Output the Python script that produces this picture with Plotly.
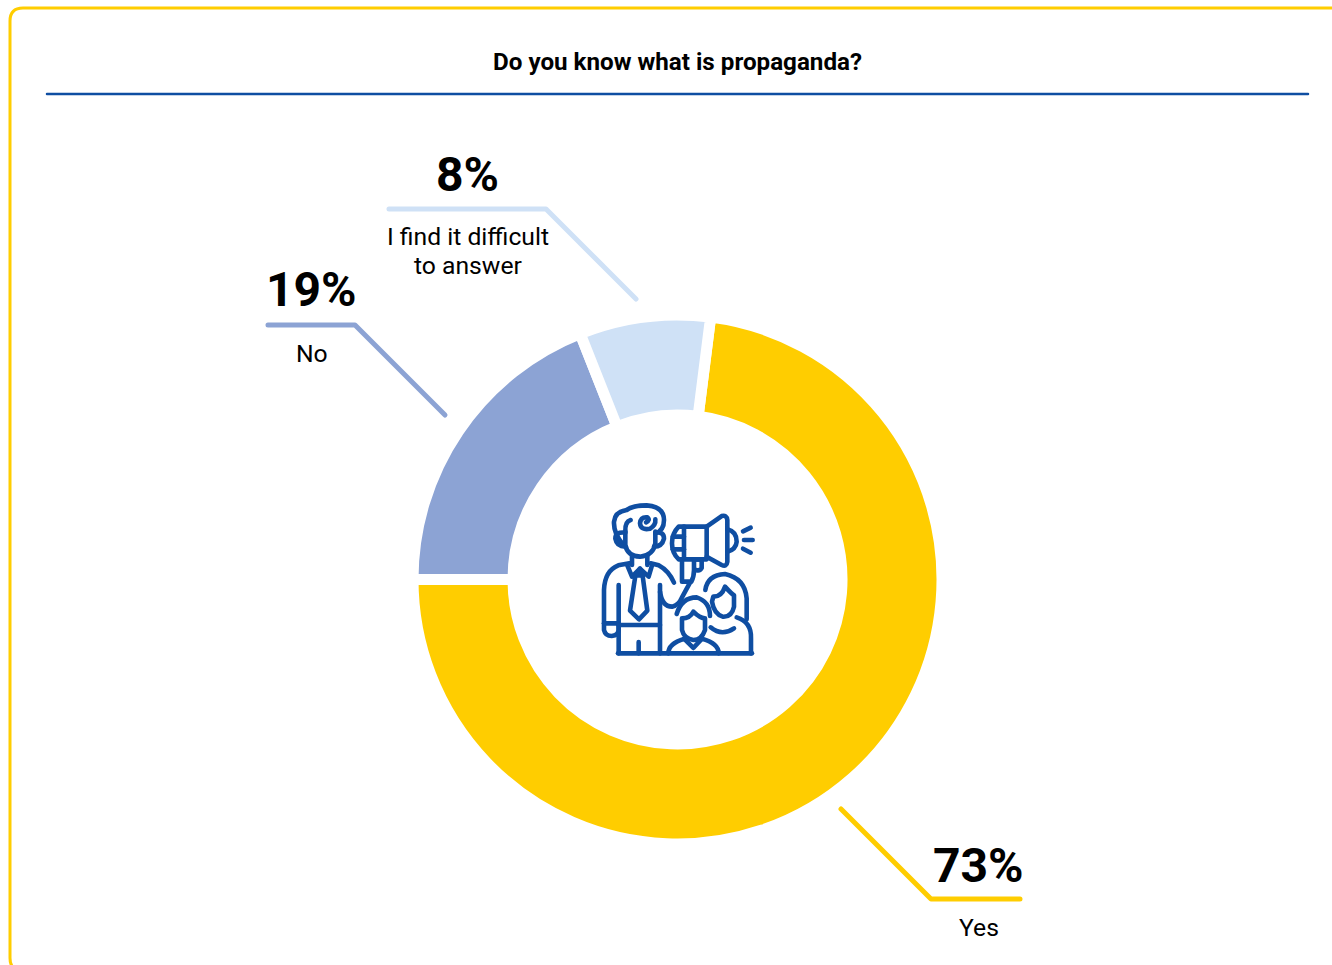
import re
import plotly.graph_objects as go

WIDTH, HEIGHT = 1332, 965

# Survey results
title_text = "Do you know what is propaganda?"
answers = ["Yes", "No", "I find it difficult<br>to answer"]
shares = [73, 19, 8]
slice_colors = ["#FFCD00", "#8CA3D4", "#CFE1F6"]

# Chart furniture colours
FRAME = "#FFCD00"
BLUE = "#0F4EA2"
INK = "#000000"


def to_paper(path):
    """Convert a pixel-space SVG path (y down) to paper coordinates."""
    parts = re.findall(r"[MLQCZ]|-?\d+\.?\d*", path)
    out, is_x = [], True
    for token in parts:
        if token.isalpha():
            out.append(token)
            is_x = True
        else:
            value = float(token)
            out.append(f"{value / WIDTH:.5f}" if is_x else f"{1 - value / HEIGHT:.5f}")
            is_x = not is_x
    return " ".join(out)


def stroke(path, color, width):
    return dict(
        type="path", xref="paper", yref="paper", path=to_paper(path),
        line=dict(color=color, width=width), fillcolor="rgba(0,0,0,0)", layer="above",
    )


def scale_icon(path, ox=590, oy=490, k=1 / 3):
    """Place an icon path, drawn on a 540-unit grid, on the page."""
    tokens = re.findall(r"[MLQCZ]|-?\d+\.?\d*", path)
    out, is_x = [], True
    for token in tokens:
        if token.isalpha():
            out.append(token)
            is_x = True
        else:
            out.append(f"{(ox if is_x else oy) + float(token) * k:.2f}")
            is_x = not is_x
    return " ".join(out)


# Presenter with megaphone and two listeners
icon_paths = [
    # presenter: hair, curl, face, ears, neck
    "M 100 165 Q 70 130 72 95 Q 75 65 110 60 Q 130 46 170 46 Q 222 50 222 90 Q 222 122 196 130",
    "M 168 97 Q 182 90 172 82 Q 152 80 150 100 Q 152 122 180 116 Q 198 106 196 88",
    "M 122 90 Q 104 95 106 125",
    "M 106 125 L 106 165 Q 112 198 150 200 Q 190 196 196 160 L 196 125",
    "M 106 128 Q 76 124 76 146 Q 80 170 106 170",
    "M 196 128 Q 222 124 222 146 Q 216 170 192 170",
    "M 126 198 L 126 225",
    "M 172 198 L 172 225",
    # collar and tie
    "M 112 226 L 126 260 L 150 236 L 176 260 L 186 226",
    "M 136 258 L 120 362 L 147 388 L 172 362 L 158 258",
    "M 150 236 L 136 256 L 160 256 Z",
    # jacket, sleeve and trousers
    "M 118 220 L 85 226 Q 44 242 42 300 L 42 420 Q 46 438 65 438 Q 85 436 86 420 L 86 285",
    "M 42 400 L 86 400",
    "M 86 405 L 210 405",
    "M 86 405 L 86 490",
    "M 210 285 L 210 490",
    "M 146 490 L 146 456",
    "M 84 490 L 486 490",
    # raised arm
    "M 182 220 L 206 226 Q 236 242 252 278",
    "M 210 305 Q 216 350 246 350 Q 266 346 276 322 L 300 278",
    # megaphone
    "M 266 110 L 350 110 L 350 208 L 266 208 Q 246 190 246 160 Q 246 130 266 110 Z",
    "M 350 110 L 395 78 Q 410 74 412 90 L 412 215 Q 410 232 395 225 L 350 200",
    "M 282 110 L 282 206",
    "M 248 140 L 282 140",
    "M 248 178 L 282 178",
    "M 276 208 L 276 275 L 304 275 Q 312 260 312 240 L 312 208",
    "M 312 208 L 335 208 L 335 234 Q 330 244 318 240",
    "M 412 118 Q 440 125 440 155 Q 438 178 412 185",
    "M 459 124 L 482 113",
    "M 462 150 L 488 150",
    "M 459 176 L 482 188",
    # woman at the back
    "M 346 300 Q 352 255 405 252 Q 465 265 470 325 L 470 388",
    "M 370 320 Q 395 320 405 290 Q 425 312 432 316 L 432 350 Q 425 382 398 380 Q 372 372 366 335 Z",
    "M 362 412 Q 395 440 432 415",
    "M 440 382 Q 485 396 483 445 L 483 490",
    # boy in front
    "M 260 372 Q 275 322 320 322 Q 360 335 360 378",
    "M 276 385 Q 300 385 310 365 Q 330 385 345 385 L 345 420 Q 335 450 310 450 Q 282 446 276 420 Z",
    "M 282 446 L 310 474 L 336 446",
    "M 235 490 Q 235 460 284 446",
    "M 386 490 Q 386 460 336 446",
]

# Donut: the visible ring is trimmed by the white slice border
cx, cy, radius = 677.5, 579.5, 264.5
fig = go.Figure(
    go.Pie(
        labels=answers,
        values=shares,
        sort=False,
        direction="clockwise",
        rotation=7.2,
        hole=0.622,
        marker=dict(colors=slice_colors, line=dict(color="#FFFFFF", width=11)),
        textinfo="none",
        hoverinfo="label+percent",
        showlegend=False,
        domain=dict(
            x=[(cx - radius) / WIDTH, (cx + radius) / WIDTH],
            y=[1 - (cy + radius) / HEIGHT, 1 - (cy - radius) / HEIGHT],
        ),
    )
)

shapes = [
    # card outline, running off the right and bottom of the page
    stroke("M 1332 8 L 23 8 Q 10 8 10 21 L 10 958 Q 10 971 23 971", FRAME, 3),
    # rule under the heading
    stroke("M 47 94 L 1308 94", BLUE, 2.5),
    # leader lines
    stroke("M 841 809 L 931 899 L 1020 899", slice_colors[0], 5),
    stroke("M 268 325 L 355 325 L 445 415", slice_colors[1], 5),
    stroke("M 389 209 L 546 209 L 636 299", slice_colors[2], 5),
]
shapes += [stroke(scale_icon(p), BLUE, 4.6) for p in icon_paths]


def label(x, y, text, size, weight=400):
    return dict(
        xref="paper", yref="paper", x=x / WIDTH, y=1 - y / HEIGHT,
        xanchor="center", yanchor="middle", showarrow=False, align="center",
        text=text, font=dict(family="Roboto", size=size, color=INK, weight=weight),
    )


# The two-line answer is set line by line for tighter leading
first_line, second_line = answers[2].split("<br>")

annotations = [
    label(677.5, 62, title_text, 24.2, 700),
    label(978.5, 865, f"{shares[0]}%", 48, 700),
    label(978.5, 927, answers[0], 24.7),
    label(311.5, 290, f"{shares[1]}%", 48, 700),
    label(311.5, 353, answers[1], 24.7),
    label(467, 175, f"{shares[2]}%", 48, 700),
    label(467.5, 236, first_line, 24.7),
    label(467.5, 265, second_line, 24.7),
]

fig.update_layout(
    width=WIDTH,
    height=HEIGHT,
    autosize=False,
    margin=dict(l=0, r=0, t=0, b=0),
    paper_bgcolor="#FFFFFF",
    plot_bgcolor="#FFFFFF",
    shapes=shapes,
    annotations=annotations,
)

# Rounded ends and corners for all outline strokes
rounded = (
    "document.querySelectorAll('.shapelayer path').forEach(function(p){"
    "p.style.strokeLinecap='round';p.style.strokeLinejoin='round';});"
)
fig.write_html("out.html", post_script=rounded, config=dict(displayModeBar=False))
